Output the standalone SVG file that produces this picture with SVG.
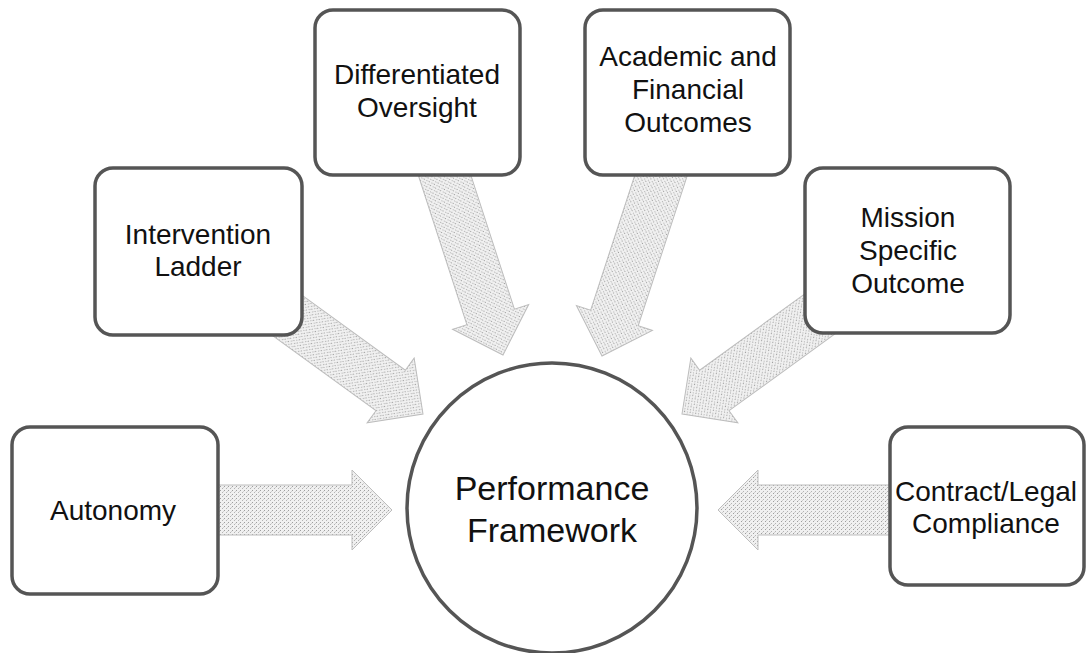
<svg xmlns="http://www.w3.org/2000/svg" xmlns:xlink="http://www.w3.org/1999/xlink" width="1087" height="653" viewBox="0 0 1087 653">
<style>
.box{fill:#fff;stroke:#555;stroke-width:3.5}
.lbl{font-family:"Liberation Sans",Arial,sans-serif;font-size:28px;fill:#111;text-anchor:middle}
.big{font-size:34px}
.arr{fill:url(#stip);stroke:#bdbdbd;stroke-width:1}
</style>
<defs>
<pattern id="stip" width="4" height="4" patternUnits="userSpaceOnUse">
<rect width="4" height="4" fill="#f0f0f0"/>
<rect x="0" y="0" width="1" height="1" fill="#9e9e9e"/>
<rect x="2" y="2" width="1" height="1" fill="#b4b4b4"/>
<rect x="3" y="1" width="1" height="1" fill="#d0d0d0"/>
</pattern>
<path id="arrow" d="M0,0 L-40,-40 L-40,-25 L-210,-25 L-210,25 L-40,25 L-40,40 Z"/>
</defs>
<rect width="1087" height="653" fill="#fff"/>
<g id="connectors">
<use xlink:href="#arrow" class="arr" transform="translate(392,510)"/>
<use xlink:href="#arrow" class="arr" transform="translate(423,414) rotate(36)"/>
<use xlink:href="#arrow" class="arr" transform="translate(503,355) rotate(72)"/>
<use xlink:href="#arrow" class="arr" transform="translate(602,356) rotate(108.1)"/>
<use xlink:href="#arrow" class="arr" transform="translate(682,414) rotate(144)"/>
<use xlink:href="#arrow" class="arr" transform="translate(718,510) rotate(180)"/>
</g>
<g id="autonomy">
<rect class="box" x="12" y="427" width="206" height="167" rx="18"/>
<text class="lbl" x="113" y="520">Autonomy</text>
</g>
<g id="intervention-ladder">
<rect class="box" x="95" y="168" width="207" height="167" rx="18"/>
<text class="lbl" x="198" y="244">Intervention</text>
<text class="lbl" x="198" y="276">Ladder</text>
</g>
<g id="differentiated-oversight">
<rect class="box" x="315" y="10" width="205" height="165" rx="18"/>
<text class="lbl" x="417" y="84">Differentiated</text>
<text class="lbl" x="417" y="117">Oversight</text>
</g>
<g id="academic-financial">
<rect class="box" x="585" y="10" width="205" height="165" rx="18"/>
<text class="lbl" x="688" y="66">Academic and</text>
<text class="lbl" x="688" y="99">Financial</text>
<text class="lbl" x="688" y="132">Outcomes</text>
</g>
<g id="mission-specific">
<rect class="box" x="805" y="168" width="205" height="165" rx="18"/>
<text class="lbl" x="908" y="227">Mission</text>
<text class="lbl" x="908" y="260">Specific</text>
<text class="lbl" x="908" y="293">Outcome</text>
</g>
<g id="contract-legal">
<rect class="box" x="890" y="427" width="194" height="158" rx="18"/>
<text class="lbl" x="986" y="501">Contract/Legal</text>
<text class="lbl" x="986" y="533">Compliance</text>
</g>
<g id="performance-framework">
<circle class="box" cx="552" cy="508" r="145"/>
<text class="lbl big" x="552" y="500">Performance</text>
<text class="lbl big" x="552" y="542">Framework</text>
</g>
</svg>
